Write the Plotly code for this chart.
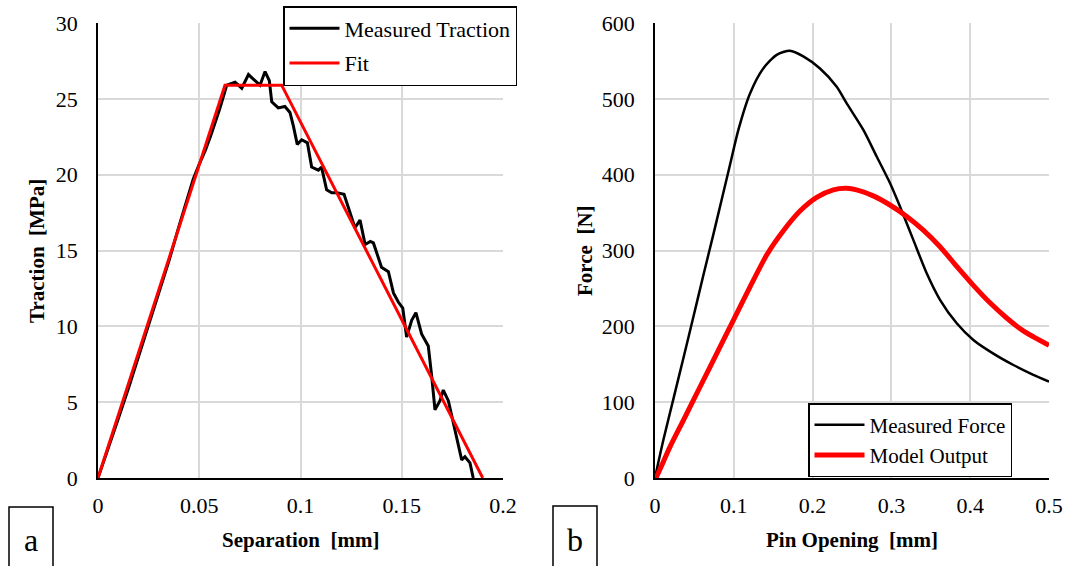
import plotly.graph_objects as go

# ---- Panel a: traction-separation ----
sep_measured = [0, 0.005, 0.01, 0.015, 0.02, 0.025, 0.03, 0.035, 0.04, 0.044, 0.047, 0.05,
                0.053, 0.056, 0.06, 0.0636, 0.0677, 0.071, 0.0743, 0.0767, 0.080, 0.0825,
                0.0846, 0.0858, 0.089, 0.0923, 0.0948, 0.0965, 0.0984, 0.1006, 0.1034,
                0.1055, 0.1088, 0.1104, 0.1129, 0.1154, 0.118, 0.1215, 0.1228, 0.1253,
                0.1269, 0.1294, 0.1319, 0.1345, 0.136, 0.14, 0.1434, 0.1459, 0.1483,
                0.1505, 0.1524, 0.1549, 0.157, 0.1598, 0.1631, 0.1648, 0.1664, 0.1689,
                0.1705, 0.173, 0.1763, 0.1796, 0.1812, 0.1837, 0.1853]
trac_measured = [0, 1.9, 3.9, 5.9, 8.0, 10.1, 12.2, 14.3, 16.6, 18.4, 19.7, 20.7,
                 21.6, 22.7, 24.3, 25.9, 26.1, 25.7, 26.6, 26.3, 25.9, 26.8,
                 26.2, 24.8, 24.4, 24.5, 24.1, 23.2, 22.0, 22.3, 22.1,
                 20.5, 20.3, 20.5, 19.0, 18.8, 18.8, 18.7, 18.2, 17.2,
                 16.5, 17.0, 15.4, 15.6, 15.5, 13.9, 13.6, 12.2, 11.6,
                 11.2, 9.3, 10.4, 10.9, 9.5, 8.7, 6.7, 4.5, 5.1,
                 5.8, 5.1, 3.2, 1.2, 1.4, 1.0, 0.0]
sep_fit = [0, 0.0627, 0.0907, 0.19]
trac_fit = [0, 25.9, 25.9, 0]

# ---- Panel b: force vs pin opening ----
pin_measured = [0, 0.002, 0.0106, 0.0233, 0.036, 0.0486, 0.0613, 0.074, 0.0846, 0.0952,
                0.1058, 0.1206, 0.1374, 0.1544, 0.1713, 0.1882, 0.2094, 0.2306, 0.2433,
                0.2644, 0.2813, 0.2982, 0.3109, 0.3278, 0.3448, 0.3617, 0.3829, 0.404,
                0.4294, 0.4548, 0.4801, 0.5]
force_measured = [0, 10, 50, 104, 158, 212, 267, 321, 367, 413,
                  459, 507, 540, 558, 563.5, 556, 540, 516, 494,
                  459, 424, 389, 358, 314, 270, 235, 204, 182,
                  164, 149, 136, 127]
pin_model = [0, 0.002, 0.019, 0.036, 0.0571, 0.0783, 0.0994, 0.1206, 0.1417, 0.1629,
             0.184, 0.2052, 0.2263, 0.2433, 0.2559, 0.277, 0.2982, 0.3194, 0.3405,
             0.3617, 0.3829, 0.404, 0.4251, 0.4463, 0.4674, 0.5]
force_model = [0, 2, 41, 76, 120, 164, 208, 252, 294, 326,
               352, 370, 380, 382, 380, 372, 360, 345, 327,
               305, 279, 254, 231, 211, 194, 175]

FONT = "Liberation Serif"
W, H = 1065, 566

fig = go.Figure()
fig.add_trace(go.Scatter(x=sep_measured, y=trac_measured, mode="lines", name="Measured Traction",
                         line=dict(color="black", width=3), xaxis="x", yaxis="y",
                         legend="legend", legendgroup="g1"))
fig.add_trace(go.Scatter(x=sep_fit, y=trac_fit, mode="lines", name="Fit",
                         line=dict(color="#ff0000", width=3), xaxis="x", yaxis="y",
                         legend="legend", legendgroup="g2"))
fig.add_trace(go.Scatter(x=pin_measured, y=force_measured, mode="lines", name="Measured Force",
                         line=dict(color="black", width=2.5, shape="spline", smoothing=0.7),
                         xaxis="x2", yaxis="y2", legend="legend2"))
fig.add_trace(go.Scatter(x=pin_model, y=force_model, mode="lines", name="Model Output",
                         line=dict(color="#ff0000", width=5, shape="spline", smoothing=0.7),
                         xaxis="x2", yaxis="y2", legend="legend2"))

ydom = [(H - 478) / H, (H - 23) / H]
axis_common = dict(showgrid=True, gridcolor="#d9d9d9", gridwidth=1.5, zeroline=False,
                   showline=True, linecolor="black", linewidth=1.5, ticks="",
                   automargin=False,
                   tickfont=dict(family=FONT, size=22, color="black"))

fig.update_layout(
    width=W, height=H,
    margin=dict(l=0, r=0, t=0, b=0),
    paper_bgcolor="white", plot_bgcolor="white",
    font=dict(family=FONT, color="black"),
    xaxis=dict(domain=[98 / W, 503 / W], range=[0, 0.2], dtick=0.05, anchor="y",
               ticklabelstandoff=7, **axis_common),
    yaxis=dict(domain=ydom, range=[0, 30], dtick=5, anchor="x",
               ticklabelstandoff=14, **axis_common),
    xaxis2=dict(domain=[655 / W, 1049 / W], range=[0, 0.5], dtick=0.1, anchor="y2",
                ticklabelstandoff=7, **axis_common),
    yaxis2=dict(domain=ydom, range=[0, 600], dtick=100, anchor="x2",
                ticklabelstandoff=14, **axis_common),
    legend=dict(x=283 / W, y=(H - 6) / H, xanchor="left", yanchor="top",
                bgcolor="white", bordercolor="black", borderwidth=1.5,
                font=dict(family=FONT, size=22, color="black"),
                tracegroupgap=3, traceorder="grouped", itemwidth=50),
    legend2=dict(x=808 / W, y=(H - 403) / H, xanchor="left", yanchor="top",
                 bgcolor="white", bordercolor="black", borderwidth=1.5,
                 font=dict(family=FONT, size=21, color="black"), itemwidth=50),
    showlegend=True,
)

# Axis titles
title_font = dict(family=FONT, size=21, color="black")
for x, y, txt, ang in [(300, 540, "<b>Separation\u00a0 [mm]</b>", 0),
                       (852, 540, "<b>Pin Opening\u00a0 [mm]</b>", 0),
                       (37, 251, "<b>Traction\u00a0 [MPa]</b>", -90),
                       (585, 251, "<b>Force\u00a0 [N]</b>", -90)]:
    fig.add_annotation(xref="paper", yref="paper", x=x / W, y=(H - y) / H, text=txt,
                       showarrow=False, xanchor="center", yanchor="middle",
                       textangle=ang, font=title_font)

# Panel label boxes
for x0, x1, y_top, label in [(9, 53, 507, "a"), (553, 597, 506, "b")]:
    fig.add_shape(type="rect", xref="paper", yref="paper",
                  x0=x0 / W, x1=x1 / W, y0=-0.05, y1=(H - y_top) / H,
                  line=dict(color="black", width=1.5), fillcolor="white", layer="above")
    fig.add_annotation(xref="paper", yref="paper", x=(x0 + x1) / 2 / W, y=(H - 540) / H,
                       text=label, showarrow=False, xanchor="center", yanchor="middle",
                       font=dict(family=FONT, size=32, color="black"))

fig.write_html("out.html",
               config={"displayModeBar": False},
               post_script="document.body.style.margin='0';document.body.style.overflow='hidden';")
